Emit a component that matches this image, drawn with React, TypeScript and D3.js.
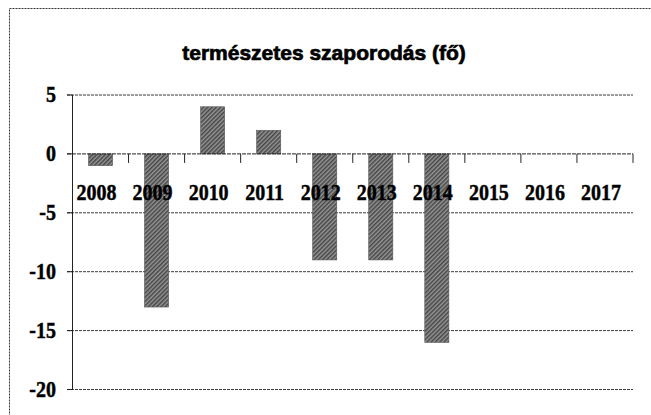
import React from 'react'
import * as d3 from 'd3'

// természetes szaporodás (fő), 2008-2017
const years = ['2008', '2009', '2010', '2011', '2012', '2013', '2014', '2015', '2016', '2017']
const values: (number | null)[] = [-1, -13, 4, 2, -9, -9, -16, null, null, null]
const yTicks = [5, 0, -5, -10, -15, -20]

const W = 651
const H = 415

const App = () => {
  const x = d3.scaleBand<string>().domain(years).range([72.5, 633]).padding(0)
  const y = d3.scaleLinear().domain([-20, 5]).range([389.5, 95])
  const step = x.step()
  const barW = step * 0.43
  const serif = '"Liberation Serif", "Times New Roman", serif'

  return (
    <svg
      width={W}
      height={H}
      style={{ position: 'absolute', left: 0, top: 0, background: '#fff' }}
    >
      <defs>
        <pattern id="hatch" width="3" height="3" patternUnits="userSpaceOnUse" patternTransform="rotate(45)">
          <rect width="3" height="3" fill="#969696" />
          <rect width="1.5" height="3" fill="#454545" />
        </pattern>
      </defs>

      {/* chart border, only top and left fall inside the picture */}
      <rect x={9.5} y={8.5} width={700} height={500} fill="none" stroke="#333" strokeDasharray="2 1" />

      <text
        x={324}
        y={60}
        textAnchor="middle"
        fontFamily='"Liberation Sans", Arial, sans-serif'
        fontWeight="bold"
        fontSize={21}
        fill="#000"
        stroke="#000"
        strokeWidth={0.7}
      >
        természetes szaporodás (fő)
      </text>

      {/* gridlines */}
      {yTicks.filter((t) => t !== 0).map((t) => (
        <line
          key={t}
          x1={67}
          x2={633}
          y1={y(t)}
          y2={y(t)}
          stroke="#3a3a3a"
          strokeWidth={1}
          strokeDasharray="3 1"
        />
      ))}

      {/* bars */}
      {years.map((yr, i) => {
        const v = values[i]
        if (v === null) return null
        const cx = (x(yr) as number) + step / 2
        return (
          <rect
            key={yr}
            x={cx - barW / 2}
            y={y(Math.max(0, v))}
            width={barW}
            height={Math.abs(y(v) - y(0))}
            fill="url(#hatch)"
            stroke="#555"
            strokeWidth={0.6}
          />
        )
      })}

      {/* y axis */}
      <line x1={72.5} x2={72.5} y1={y(5)} y2={y(-20)} stroke="#222" strokeWidth={1} />
      {yTicks.map((t) => (
        <g key={t}>
          <line x1={67} x2={72.5} y1={y(t)} y2={y(t)} stroke="#222" />
          <text
            transform={`translate(56,${y(t)}) scale(1,1.15)`}
            textAnchor="end"
            dominantBaseline="central"
            fontFamily={serif}
            fontWeight="bold"
            fontSize={20}
            fill="#000"
            stroke="#000"
            strokeWidth={0.4}
          >
            {t}
          </text>
        </g>
      ))}

      {/* category axis at zero */}
      <line x1={67} x2={633} y1={y(0)} y2={y(0)} stroke="#222" strokeWidth={1} strokeDasharray="4 1" />
      {d3.range(years.length + 1).map((k) => (
        <line
          key={k}
          x1={72.5 + k * step}
          x2={72.5 + k * step}
          y1={y(0)}
          y2={y(0) + 9}
          stroke="#222"
        />
      ))}
      {years.map((yr) => (
        <text
          key={yr}
          transform={`translate(${(x(yr) as number) + step / 2 - 4},200) scale(1,1.2)`}
          textAnchor="middle"
          fontFamily={serif}
          fontWeight="bold"
          fontSize={20}
          fill="#000"
          stroke="#000"
          strokeWidth={0.4}
        >
          {yr}
        </text>
      ))}
    </svg>
  )
}

export default App
